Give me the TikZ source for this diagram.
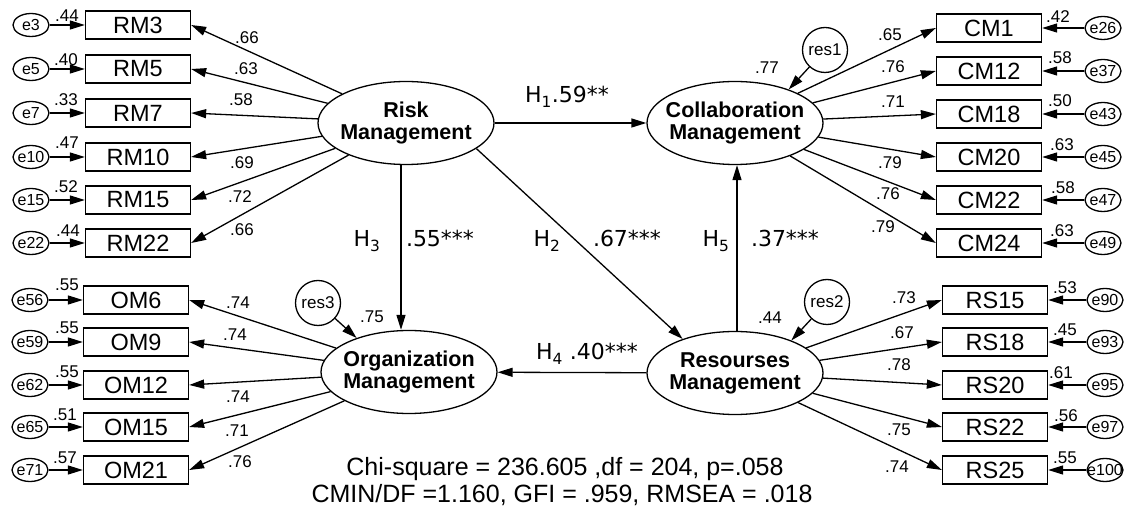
\documentclass[tikz,border=0pt]{standalone}
\usepackage{fontspec}
\setmainfont{Liberation Sans}
\newfontfamily\hypfont{DejaVu Sans}
\usetikzlibrary{shapes.geometric,arrows.meta}

\begin{document}
\begin{tikzpicture}[x=1pt,y=-1pt,line width=1.3pt,
  lat/.style={draw,ellipse,minimum width=176pt,minimum height=83pt,inner xsep=-40pt,inner ysep=0pt,align=center,font=\fontsize{21.5}{22}\selectfont\bfseries},
  obs/.style={draw,rectangle,minimum width=105pt,minimum height=28pt,inner sep=0pt,font=\fontsize{23.5}{24}\selectfont},
  err/.style={draw,ellipse,minimum width=36pt,minimum height=23pt,inner sep=0pt,font=\fontsize{16}{16}\selectfont},
  resid/.style={draw,circle,minimum size=45pt,inner sep=0pt,font=\fontsize{17}{17}\selectfont},
  coef/.style={inner sep=0pt,font=\fontsize{17}{17}\selectfont},
  hyp/.style={inner sep=0pt,anchor=base,font=\hypfont\fontsize{22}{22}\selectfont},
  fit/.style={inner sep=0pt,anchor=base,font=\fontsize{25}{25}\selectfont},
  arr/.style={-{Triangle[length=15pt,width=9pt]}}]
  \useasboundingbox (0,0) rectangle (1136,510);
  % latent variables
  \node[lat] (risk) at (406,123) {Risk\\Management};
  \node[lat] (collab) at (735,123) {Collaboration\\Management};
  \node[lat] (org) at (409,372) {Organization\\Management};
  \node[lat] (res) at (735,373) {Resourses\\Management};
  \node[resid] (res1) at (825,50) {res1};
  \node[resid] (res2) at (827,302) {res2};
  \node[resid] (res3) at (318,303) {res3};
  \node[coef] (sq1) at (767,68) {.77};
  \node[coef] (sq2) at (770,318) {.44};
  \node[coef] (sq3) at (372,317) {.75};
  % structural paths
  \draw[arr] (risk) -- (collab);
  \draw[arr] ([xshift=-5pt]risk.south) -- ([xshift=-8pt]org.north);
  \draw[arr] (risk.-20) -- (res.147);
  \draw[arr] (res) -- (org);
  \draw[arr] ([xshift=2pt]res.north) -- ([xshift=2pt]collab.south);
  \draw[arr] (res1) -- (collab.32);
  \draw[arr] (res2) -- (res.30);
  \draw[arr] (res3) -- (org.147);
  \node[hyp] (h1) at (567,103) {H\textsubscript{1}.59**};
  \node[hyp] (h3) at (367,247) {H\textsubscript{3}};
  \node[hyp] (b3) at (440,247) {.55***};
  \node[hyp] (h2) at (547,247) {H\textsubscript{2}};
  \node[hyp] (b2) at (627,247) {.67***};
  \node[hyp] (h5) at (716,247) {H\textsubscript{5}};
  \node[hyp] (b5) at (785,247) {.37***};
  \node[hyp] (h4) at (587,360) {H\textsubscript{4} .40***};
  % risk management items
  \foreach \i/\en/\y/\ld/\lx/\ly/\ev/\ex/\ey in {3/3/25/.66/247/38/.44/67/16,
    5/5/69/.63/246/69/.40/66/60, 7/7/113/.58/241/100/.33/66/100,
    10/10/157/.69/242/163/.47/67/143, 15/15/200/.72/240/197/.52/66/187,
    22/22/243/.66/242/230/.44/68/231} {
    \node[obs] (rm\i) at (138,\y) {RM\i};
    \node[err] (e\en) at (31,\y) {\makebox[0pt]{e\en}};
    \draw[arr] (e\en) -- (rm\i);
    \draw[arr] (risk) -- (rm\i.east);
    \node[coef] (lrm\i) at (\lx,\ly) {\ld};
    \node[coef] (erm\i) at (\ex,\ey) {\ev};
  }
  % organization management items
  \foreach \i/\en/\y/\ld/\lx/\ly/\ev/\ex/\ey in {6/56/300/.74/238/303/.55/67/285,
    9/59/342/.74/235/335/.55/67/328, 12/62/385/.74/238/397/.55/67/372,
    15/65/427/.71/237/431/.51/65/415, 21/71/470/.76/240/462/.57/65/458} {
    \node[obs] (om\i) at (136,\y) {OM\i};
    \node[err] (e\en) at (30,\y) {\makebox[0pt]{e\en}};
    \draw[arr] (e\en) -- (om\i);
    \draw[arr] (org) -- (om\i.east);
    \node[coef] (lom\i) at (\lx,\ly) {\ld};
    \node[coef] (eom\i) at (\ex,\ey) {\ev};
  }
  % collaboration management items
  \foreach \i/\en/\y/\ld/\lx/\ly/\ev/\ex/\ey in {1/26/28/.65/890/35/.42/1058/17,
    12/37/71/.76/893/67/.58/1060/58, 18/43/114/.71/893/102/.50/1060/101,
    20/45/157/.79/890/163/.63/1062/145, 22/47/200/.76/888/194/.58/1063/188,
    24/49/243/.79/883/227/.63/1062/231} {
    \node[obs] (cm\i) at (989,\y) {CM\i};
    \node[err] (e\en) at (1103,\y) {\makebox[0pt]{e\en}};
    \draw[arr] (e\en) -- (cm\i);
    \draw[arr] (collab) -- (cm\i.west);
    \node[coef] (lcm\i) at (\lx,\ly) {\ld};
    \node[coef] (ecm\i) at (\ex,\ey) {\ev};
  }
  % resourses management items
  \foreach \i/\en/\y/\ld/\lx/\ly/\ev/\ex/\ey in {15/90/300/.73/904/298/.53/1065/288,
    18/93/342/.67/902/333/.45/1065/330, 20/95/385/.78/899/365/.61/1061/373,
    22/97/427/.75/899/430/.56/1066/416, 25/100/470/.74/897/467/.55/1065/458} {
    \node[obs] (rs\i) at (995,\y) {RS\i};
    \node[err] (e\en) at (1105,\y) {\makebox[0pt]{e\en}};
    \draw[arr] (e\en) -- (rs\i);
    \draw[arr] (res) -- (rs\i.west);
    \node[coef] (lrs\i) at (\lx,\ly) {\ld};
    \node[coef] (ers\i) at (\ex,\ey) {\ev};
  }
  % fit indices
  \node[fit] (fit1) at (565,476) {Chi-square = 236.605 ,df = 204, p=.058};
  \node[fit] (fit2) at (562,503) {CMIN/DF =1.160, GFI = .959, RMSEA = .018};
\end{tikzpicture}
\end{document}
